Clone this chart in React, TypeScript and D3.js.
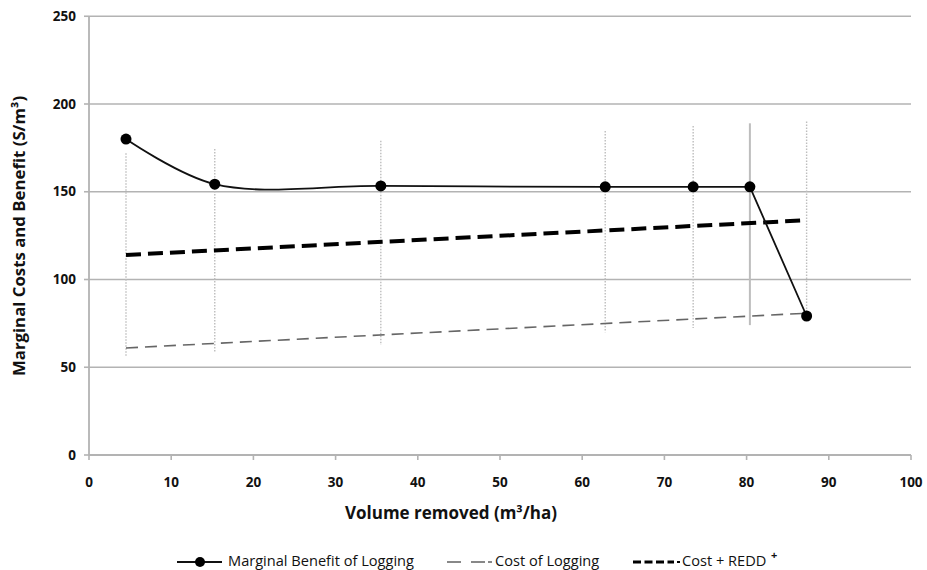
import React from "react";
import * as d3 from "d3";

const volume = [4.5, 15.3, 35.5, 62.8, 73.5, 80.4, 87.3];
const benefit = [180, 154.3, 153.3, 152.8, 152.8, 152.8, 79.2];
const errHigh = [172, 174.4, 179, 184.6, 187.5, 189, 190];
const errLow = [56.4, 58.7, 62.7, 70, 72.4, 74, 79];
const costEnds = [61, 80.8];
const reddEnds = [114, 133.8];
const xTicks = [0, 10, 20, 30, 40, 50, 60, 70, 80, 90, 100];
const yTicks = [0, 50, 100, 150, 200, 250];

const W = 927;
const H = 570;
const FONT = "'Open Sans', Lato, sans-serif";

export default function App() {
  const x = d3.scaleLinear().domain([0, 100]).range([89, 911]);
  const y = d3.scaleLinear().domain([0, 250]).range([455, 16.25]);
  const pts = volume.map((v, i) => [x(v), y(benefit[i])] as [number, number]);
  const smoothPart = d3.line().curve(d3.curveCatmullRom.alpha(0.5))(pts.slice(0, 4)) || "";
  const straightPart = d3.line()(pts.slice(3)) || "";
  const x0 = volume[0];
  const x1 = volume[volume.length - 1];
  const grid = "#b3b3b3";

  return (
    <svg width={W} height={H} style={{ position: "absolute", left: 0, top: 0, background: "#fff" }}>
      {yTicks.filter((t) => t > 0).map((t) => (
        <line key={t} x1={x(0)} x2={x(100)} y1={y(t)} y2={y(t)} stroke={grid} strokeWidth={1.6} />
      ))}
      <line x1={x(0)} x2={x(0)} y1={y(0)} y2={y(250)} stroke={grid} strokeWidth={1.8} />
      <line x1={x(0)} x2={x(100)} y1={y(0)} y2={y(0)} stroke={grid} strokeWidth={1.8} />
      {yTicks.map((t) => (
        <line key={"yt" + t} x1={x(0) - 5} x2={x(0)} y1={y(t)} y2={y(t)} stroke={grid} strokeWidth={1.6} />
      ))}
      {xTicks.map((t) => (
        <line key={"xt" + t} x1={x(t)} x2={x(t)} y1={y(0)} y2={y(0) + 5} stroke={grid} strokeWidth={1.6} />
      ))}
      {yTicks.map((t) => (
        <text key={"yl" + t} x={76} y={y(t)} dy="0.35em" textAnchor="end" fontFamily={FONT} fontWeight={700} fontSize={13.5} fill="#111">
          {t}
        </text>
      ))}
      {xTicks.map((t) => (
        <text key={"xl" + t} x={x(t)} y={482} dy="0.35em" textAnchor="middle" fontFamily={FONT} fontWeight={700} fontSize={13.5} fill="#111">
          {t}
        </text>
      ))}
      {volume.map((v, i) => (
        <line key={"e" + i} x1={x(v)} x2={x(v)} y1={y(errHigh[i])} y2={y(errLow[i])} stroke="#bdbdbd" strokeWidth={i === 5 ? 2 : 1.4} strokeDasharray={i === 5 ? "none" : "1.5,1.5"} />
      ))}
      <line x1={x(x0)} x2={x(x1)} y1={y(costEnds[0])} y2={y(costEnds[1])} stroke="#666" strokeWidth={1.6} strokeDasharray="12,7" />
      <line x1={x(x0)} x2={x(x1)} y1={y(reddEnds[0])} y2={y(reddEnds[1])} stroke="#000" strokeWidth={4} strokeDasharray="15,7" />
      <path d={smoothPart} fill="none" stroke="#111" strokeWidth={1.8} />
      <path d={straightPart} fill="none" stroke="#111" strokeWidth={1.8} />
      {pts.map((p, i) => (
        <circle key={"c" + i} cx={p[0]} cy={p[1]} r={5.5} fill="#000" />
      ))}
      <text x={451} y={513} dy="0.35em" textAnchor="middle" fontFamily={FONT} fontWeight={700} fontSize={17} fill="#111">
        Volume removed (m³/ha)
      </text>
      <text transform={`translate(19,236) rotate(-90)`} dy="0.35em" textAnchor="middle" fontFamily={FONT} fontWeight={700} fontSize={16.8} fill="#111">
        Marginal Costs and Benefit (S/m³)
      </text>
      <g fontFamily={FONT} fontSize={14.6} fill="#111">
        <line x1={177} x2={222} y1={562} y2={562} stroke="#111" strokeWidth={1.8} />
        <circle cx={200} cy={562} r={5} fill="#000" />
        <text x={228} y={561} dy="0.35em">Marginal Benefit of Logging</text>
        <line x1={447} x2={485} y1={562} y2={562} stroke="#888" strokeWidth={2} strokeDasharray="14,10" />
        <line x1={488} x2={492} y1={562} y2={562} stroke="#888" strokeWidth={2} />
        <text x={495} y={561} dy="0.35em">Cost of Logging</text>
        <line x1={633} x2={674} y1={562} y2={562} stroke="#000" strokeWidth={3} strokeDasharray="8,3.5" />
        <line x1={677} x2={680} y1={562} y2={562} stroke="#000" strokeWidth={2} />
        <text x={682} y={561} dy="0.35em">Cost + REDD</text>
        <text x={771} y={555} dy="0.35em" fontSize={11} fontWeight={700}>+</text>
      </g>
    </svg>
  );
}
